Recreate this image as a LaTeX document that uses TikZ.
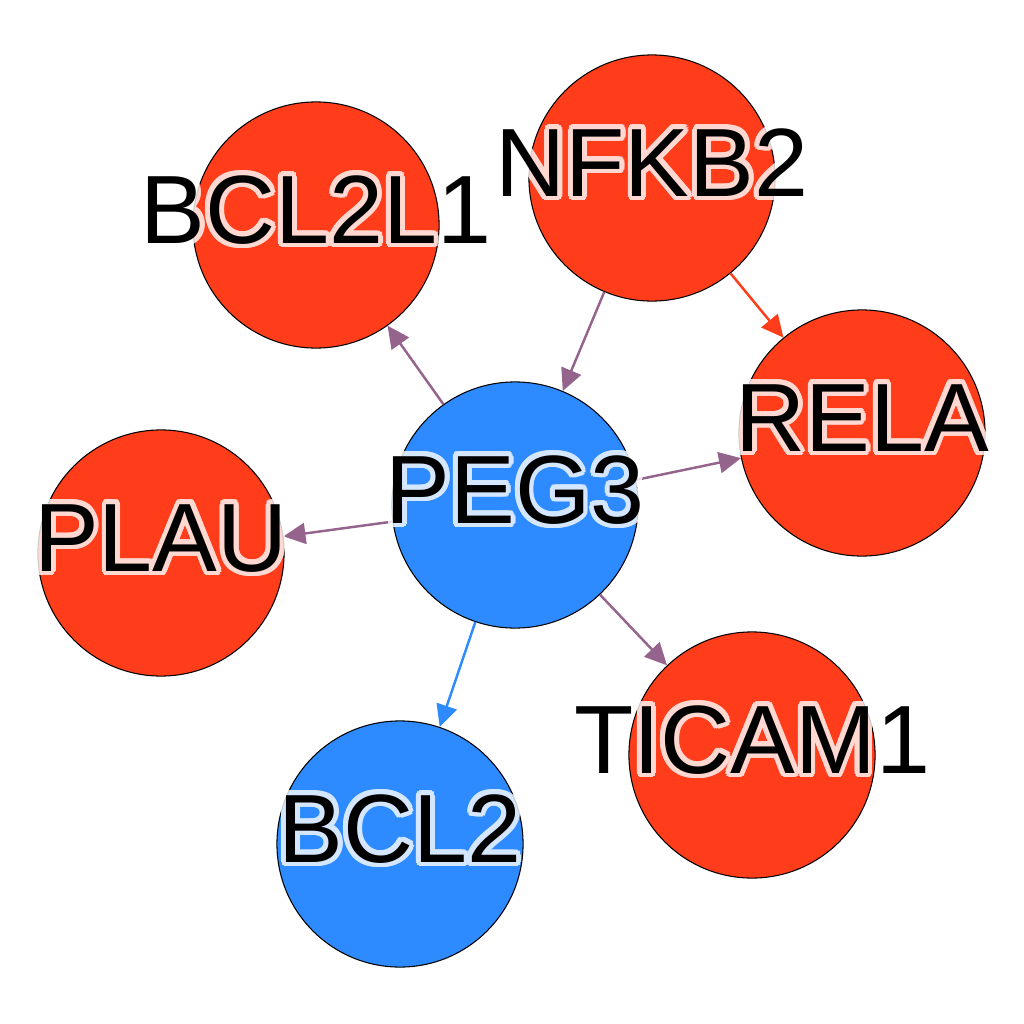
\documentclass[tikz,border=0pt]{standalone}
\usepackage{fontspec}
\setmainfont{Liberation Sans}
\usetikzlibrary{arrows.meta, calc}

\definecolor{genered}{RGB}{255,61,26}
\definecolor{geneblue}{RGB}{45,139,255}
\definecolor{edgepurple}{RGB}{148,100,140}

\tikzset{
    gene/.style={circle, draw=black, line width=0.3pt, fill=#1,
        minimum size=2.46cm, inner sep=0pt},
    genelbl/.style={anchor=base, inner sep=0pt,
        font=\fontsize{27.6}{30}\selectfont},
    edge/.style={line width=0.7pt, draw=#1,
        -{Triangle[length=0.22cm, width=0.21cm, fill=#1]}},
}

% label with a light halo around the letters
\newcommand{\genelabel}[2]{%
    \begin{scope}[transparency group, opacity=0.8]
        \foreach \a in {0,20,...,340}
            \node[genelbl, text=white] (#1-halo-\a) at ($(#1.center)+(\a:4.8)+(0,18)$) {#2};
    \end{scope}
    \node[genelbl] (#1-text) at ($(#1.center)+(0,18)$) {#2};
}

\begin{document}
\begin{tikzpicture}[x=0.01cm, y=-0.01cm]
    \useasboundingbox (0,0) rectangle (1024,1024);

    % Nodes
    \node[gene=genered]  (bcl2l1) at (316,225) {};
    \node[gene=genered]  (nfkb2)  at (652,178) {};
    \node[gene=genered]  (rela)   at (862,433) {};
    \node[gene=geneblue] (peg3)   at (515,505) {};
    \node[gene=genered]  (plau)   at (161,553) {};
    \node[gene=genered]  (ticam1) at (752,755) {};
    \node[gene=geneblue] (bcl2)   at (400,844) {};

    % Interactions
    \draw[edge=edgepurple] (peg3) -- (bcl2l1);
    \draw[edge=edgepurple] (nfkb2) -- (peg3);
    \draw[edge=genered] (nfkb2) -- (rela);
    \draw[edge=edgepurple] (peg3) -- (rela);
    \draw[edge=edgepurple] (peg3) -- (plau);
    \draw[edge=edgepurple] (peg3) -- (ticam1);
    \draw[edge=geneblue] (peg3) -- (bcl2);

    % Labels
    \genelabel{bcl2l1}{BCL2L1}
    \genelabel{nfkb2}{NFKB2}
    \genelabel{rela}{RELA}
    \genelabel{peg3}{PEG3}
    \genelabel{plau}{PLAU}
    \genelabel{ticam1}{TICAM1}
    \genelabel{bcl2}{BCL2}

\end{tikzpicture}
\end{document}
